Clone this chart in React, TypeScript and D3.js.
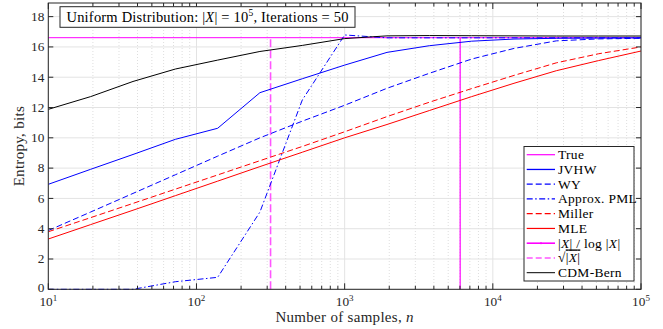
import React from "react";
import * as d3 from "d3";

// sample sizes n (log-spaced, 15 points)
const samples = [10, 19.3, 37.3, 72, 139, 268, 518, 1000, 1931, 3728, 7197, 13895, 26827, 51795, 100000];

const trueEntropy = 16.61;
const supportOverLog = 6020; // |X| / log|X|
const sqrtSupport = 316.2; // sqrt(|X|)

const jvhw = [6.93, 7.92, 8.9, 9.9, 10.63, 12.98, 13.9, 14.8, 15.64, 16.08, 16.38, 16.52, 16.57, 16.59, 16.6];
const wy = [3.88, 5.1, 6.33, 7.56, 8.79, 10.0, 11.1, 12.15, 13.27, 14.26, 15.2, 15.9, 16.4, 16.53, 16.57];
const pml = [0, 0, 0, 0.5, 0.79, 5.1, 12.5, 16.79, 16.6, 16.6, 16.6, 16.6, 16.6, 16.6, 16.6];
const miller = [3.8, 4.73, 5.67, 6.61, 7.55, 8.49, 9.43, 10.4, 11.4, 12.35, 13.25, 14.12, 14.95, 15.55, 16.0];
const mle = [3.32, 4.27, 5.22, 6.18, 7.14, 8.1, 9.05, 10.0, 10.88, 11.8, 12.72, 13.6, 14.43, 15.1, 15.73];
const cdmBern = [11.88, 12.72, 13.72, 14.54, 15.13, 15.7, 16.1, 16.55, 16.73, 16.75, 16.74, 16.73, 16.72, 16.72, 16.72];

const xTickExps = [1, 2, 3, 4, 5];
const yTicks = [0, 2, 4, 6, 8, 10, 12, 14, 16, 18];

const W = 663, H = 329;
const left = 48.3, right = 641, top = 3, bottom = 289.3;
const font = "'Liberation Serif', 'DejaVu Serif', serif";
const ink = "#262626";

const x = d3.scaleLog().domain([10, 1e5]).range([left, right]);
const y = d3.scaleLinear().domain([0, 18.9]).range([bottom, top]);

const series = [
  { name: "JVHW", data: jvhw, color: "#0000ff", dash: "" },
  { name: "WY", data: wy, color: "#0000ff", dash: "6,3" },
  { name: "Approx. PML", data: pml, color: "#0000ff", dash: "6,2.5,1.5,2.5" },
  { name: "Miller", data: miller, color: "#ff0000", dash: "6,3" },
  { name: "MLE", data: mle, color: "#ff0000", dash: "" },
  { name: "CDM-Bern", data: cdmBern, color: "#000000", dash: "" },
];

const Supp = () => (
  <>
    |<tspan fontStyle="italic">X</tspan>|
  </>
);

export default function App() {
  const line = d3
    .line<number>()
    .x((_, i) => x(samples[i]))
    .y((d) => y(d));

  const minor: number[] = [];
  for (let e = 1; e < 5; e++) for (let k = 2; k <= 9; k++) minor.push(k * Math.pow(10, e));

  const legendItems = [
    { label: "True", color: "#ff00ff", dash: "", w: 1.2 },
    { label: "JVHW", color: "#0000ff", dash: "", w: 1.3 },
    { label: "WY", color: "#0000ff", dash: "6,3", w: 1.3 },
    { label: "Approx. PML", color: "#0000ff", dash: "6,2.5,1.5,2.5", w: 1.3 },
    { label: "Miller", color: "#ff0000", dash: "6,3", w: 1.2 },
    { label: "MLE", color: "#ff0000", dash: "", w: 1.2 },
    { label: "supplog", color: "#ff00ff", dash: "", w: 1.6 },
    { label: "sqrt", color: "#ff55ff", dash: "6,3", w: 1.6 },
    { label: "CDM-Bern", color: "#000000", dash: "", w: 1 },
  ];
  const lgX = 524, lgY = 146.5, lgW = 110, lgRow = 14.75;

  return (
    <svg width={W} height={H} style={{ position: "absolute", left: 0, top: 0, background: "#fff" }} fontFamily={font}>
      <rect x={0} y={0} width={W} height={H} fill="#fff" />
      {/* grid */}
      {minor.map((v) => (
        <line key={"mg" + v} x1={x(v)} x2={x(v)} y1={top} y2={bottom} stroke="#d0d0d0" strokeWidth={0.7} strokeDasharray="1,2" />
      ))}
      {xTickExps.map((e) => (
        <line key={"xg" + e} x1={x(Math.pow(10, e))} x2={x(Math.pow(10, e))} y1={top} y2={bottom} stroke="#e3e3e3" strokeWidth={1} />
      ))}
      {yTicks.map((t) => (
        <line key={"yg" + t} x1={left} x2={right} y1={y(t)} y2={y(t)} stroke="#e3e3e3" strokeWidth={1} />
      ))}

      {/* data */}
      <g clipPath="url(#clip)">
        <clipPath id="clip">
          <rect x={left} y={top} width={right - left} height={bottom - top + 1} />
        </clipPath>
        <line x1={left} x2={right} y1={y(trueEntropy)} y2={y(trueEntropy)} stroke="#ff00ff" strokeWidth={1} />
        <line x1={x(supportOverLog)} x2={x(supportOverLog)} y1={y(0)} y2={y(trueEntropy)} stroke="#ff00ff" strokeWidth={1.2} />
        <line x1={x(sqrtSupport)} x2={x(sqrtSupport)} y1={y(0)} y2={y(trueEntropy)} stroke="#ff55ff" strokeWidth={1.6} strokeDasharray="8,3" />
        {series.map((s) => (
          <path key={s.name} d={line(s.data) || ""} fill="none" stroke={s.color} strokeWidth={1} strokeDasharray={s.dash || undefined} />
        ))}
      </g>

      {/* axes box */}
      <rect x={left} y={top} width={right - left} height={bottom - top} fill="none" stroke={ink} strokeWidth={1} />
      {yTicks.map((t) => (
        <g key={"yt" + t}>
          <line x1={left} x2={left + 5} y1={y(t)} y2={y(t)} stroke={ink} />
          <line x1={right} x2={right - 5} y1={y(t)} y2={y(t)} stroke={ink} />
          <text x={left - 4} y={y(t) + (t === 0 ? 2.4 : 4.3)} textAnchor="end" fontSize={13.3} fill={ink}>
            {t}
          </text>
        </g>
      ))}
      {xTickExps.map((e) => {
        const px = x(Math.pow(10, e));
        return (
          <g key={"xt" + e}>
            <line x1={px} x2={px} y1={bottom} y2={bottom - 6} stroke={ink} />
            <line x1={px} x2={px} y1={top} y2={top + 6} stroke={ink} />
            <text x={px} y={306} textAnchor="middle" fontSize={13.3} fill={ink}>
              10<tspan fontSize={9} dy={-5.5}>{e}</tspan>
            </text>
          </g>
        );
      })}
      {minor.map((v) => (
        <g key={"mt" + v}>
          <line x1={x(v)} x2={x(v)} y1={bottom} y2={bottom - 3.5} stroke={ink} />
          <line x1={x(v)} x2={x(v)} y1={top} y2={top + 3.5} stroke={ink} />
        </g>
      ))}

      {/* axis labels */}
      <text x={(left + right) / 2} y={322} textAnchor="middle" fontSize={15} letterSpacing={0.3} fill={ink}>
        Number of samples, <tspan fontStyle="italic">n</tspan>
      </text>
      <text transform={`translate(24,${(top + bottom) / 2}) rotate(-90)`} textAnchor="middle" fontSize={15} letterSpacing={0.3} fill={ink}>
        Entropy, bits
      </text>

      {/* title box */}
      <rect x={60} y={6.7} width={295} height={20.6} fill="#fff" stroke={ink} strokeWidth={1} />
      <text x={66.5} y={21.7} fontSize={14.5} letterSpacing={0.2} fill="#000">
        Uniform Distribution: <Supp /> = 10<tspan fontSize={9.5} dy={-6}>5</tspan>
        <tspan dy={6}>, Iterations = 50</tspan>
      </text>

      {/* legend */}
      <rect x={lgX} y={lgY} width={lgW} height={134.5} fill="#fff" stroke={ink} strokeWidth={1} />
      {legendItems.map((it, i) => {
        const cy = lgY + 8.2 + i * lgRow;
        return (
          <g key={it.label}>
            <line x1={lgX + 2.7} x2={lgX + 31} y1={cy} y2={cy} stroke={it.color} strokeWidth={it.w} strokeDasharray={it.dash || undefined} />
            {it.label === "supplog" && <circle cx={lgX + 17} cy={cy} r={1} fill={it.color} />}
            <text x={lgX + 34} y={cy + 4.5} fontSize={13.5} letterSpacing={0.3} fill="#000">
              {it.label === "supplog" ? (
                <>
                  <Supp /> / log <Supp />
                </>
              ) : it.label === "sqrt" ? (
                <>
                  √<tspan textDecoration="overline"><Supp /></tspan>
                </>
              ) : (
                it.label
              )}
            </text>
          </g>
        );
      })}
    </svg>
  );
}
